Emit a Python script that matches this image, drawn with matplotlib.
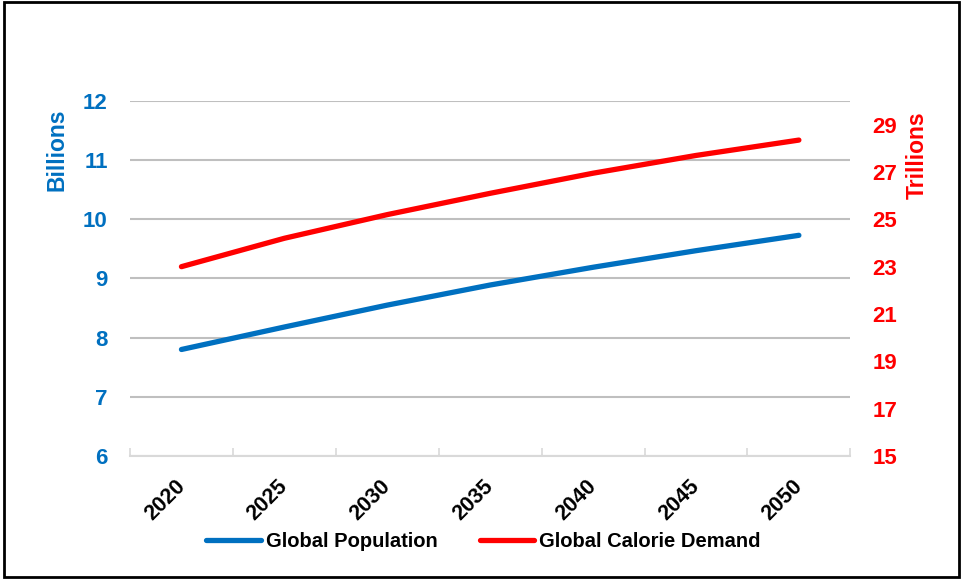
import matplotlib.pyplot as plt
from matplotlib.patches import Rectangle
from matplotlib.transforms import ScaledTranslation

plt.rcParams['font.family'] = ['Liberation Sans', 'DejaVu Sans']
plt.rcParams['font.weight'] = 'bold'
plt.rcParams['axes.labelweight'] = 'bold'

# Proyecciones 2020-2050
anios = ['2020', '2025', '2030', '2035', '2040', '2045', '2050']
poblacion = [7.80, 8.18, 8.55, 8.89, 9.19, 9.47, 9.73]        # miles de millones
calorias = [23.0, 24.2, 25.2, 26.1, 26.95, 27.7, 28.35]      # billones

azul = '#0070C0'
rojo = '#FF0000'

fig = plt.figure(figsize=(9.63, 5.79), dpi=100)
ax = fig.add_axes([0.135, 0.2125, 0.748, 0.613])
ax2 = ax.twinx()

x = list(range(len(anios)))
l1, = ax.plot(x, poblacion, color=azul, lw=3.8, solid_capstyle='round', zorder=3)
l2, = ax2.plot(x, calorias, color=rojo, lw=3.8, solid_capstyle='round', zorder=3)

ax.set_xlim(-0.5, len(anios) - 0.5)
ax.set_ylim(6, 12)
ax.set_yticks(range(6, 13))
ax2.set_ylim(15, 30)
ax2.set_yticks(range(15, 30, 2))

# Rejilla horizontal
ax.grid(axis='y', color='#BFBFBF', lw=1.5)
ax.set_axisbelow(True)

for a in (ax, ax2):
    for s in ('top', 'left', 'right'):
        a.spines[s].set_visible(False)
ax2.spines['bottom'].set_visible(False)
ax.spines['bottom'].set_color('#D9D9D9')
ax.spines['bottom'].set_linewidth(1.5)

ax.tick_params(axis='y', length=0, pad=16, labelsize=16, labelcolor=azul)
ax2.tick_params(axis='y', length=0, pad=16, labelsize=16, labelcolor=rojo)

# Marcas entre categorías, etiquetas en el centro
ax.set_xticks([i - 0.5 for i in range(len(anios) + 1)], minor=True)
ax.tick_params(axis='x', which='minor', direction='in', length=6, color='#D9D9D9', width=1.2)
ax.set_xticks(x)
ax.set_xticklabels(anios, rotation=45, ha='right', rotation_mode='anchor', fontsize=15.5)
ax.tick_params(axis='x', which='major', length=0, pad=14)
desplazamiento = ScaledTranslation(-7 / 100, 0, fig.dpi_scale_trans)
for etiqueta in ax.get_xticklabels():
    etiqueta.set_transform(etiqueta.get_transform() + desplazamiento)

ax.set_ylabel('Billions', color=azul, fontsize=16.5)
ax.yaxis.set_label_coords(-0.086, 0.862)
ax2.set_ylabel('Trillions', color=rojo, fontsize=16.5, rotation=90)
ax2.yaxis.set_label_coords(1.077, 0.848)

fig.legend([l1, l2], ['Global Population', 'Global Calorie Demand'],
           loc='center', bbox_to_anchor=(0.502, 0.065), ncol=2, frameon=False,
           fontsize=14.5, handlelength=2.7, handletextpad=0.25, columnspacing=2.1)

# Marco negro alrededor del gráfico
fig.patches.append(Rectangle((0.004, 0.003), 0.992, 0.994, transform=fig.transFigure,
                             fill=False, edgecolor='black', lw=2))

fig.savefig('out.png', dpi=100)
